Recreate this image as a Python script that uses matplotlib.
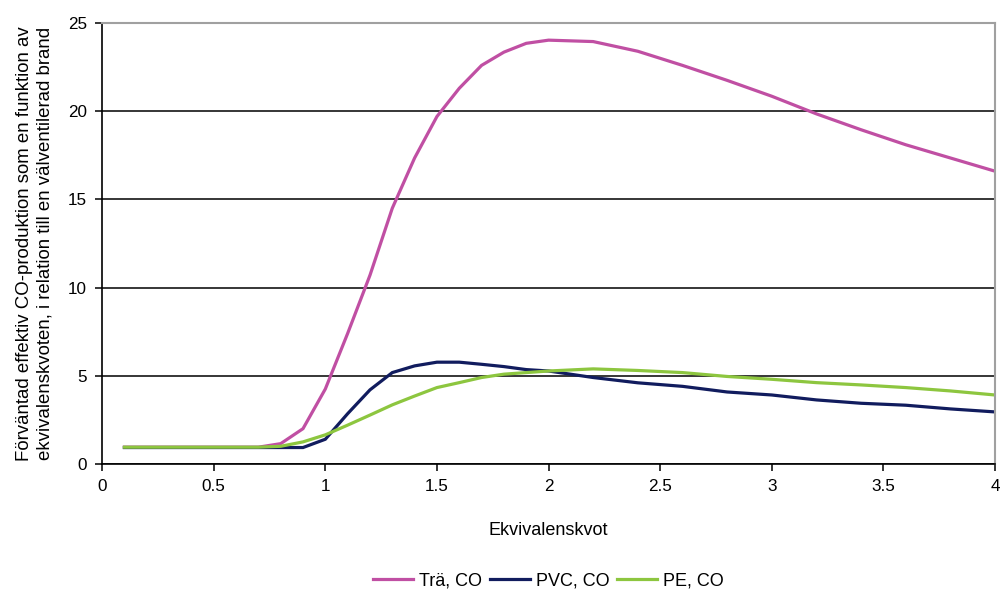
import matplotlib
matplotlib.use("Agg")
import matplotlib.pyplot as plt

plt.rcParams['font.family'] = ['Liberation Sans', 'DejaVu Sans']

x_tra = [0.1, 0.2, 0.3, 0.4, 0.5, 0.6, 0.7, 0.8, 0.9, 1.0, 1.1, 1.2, 1.3, 1.4, 1.5,
         1.6, 1.7, 1.8, 1.9, 2.0, 2.2, 2.4, 2.6, 2.8, 3.0, 3.2, 3.4, 3.6, 3.8, 4.0]
tra_co = [0.95, 0.95, 0.95, 0.95, 0.95, 0.95, 0.95, 1.15, 2.0, 4.25, 7.4, 10.7, 14.5, 17.35, 19.7,
          21.3, 22.6, 23.35, 23.85, 24.03, 23.95, 23.4, 22.6, 21.75, 20.85, 19.85, 18.95, 18.1, 17.35, 16.6]
pvc_co = [0.93, 0.93, 0.93, 0.93, 0.93, 0.93, 0.93, 0.93, 0.93, 1.4, 2.85, 4.2, 5.18, 5.56, 5.77,
          5.77, 5.65, 5.52, 5.35, 5.27, 4.9, 4.6, 4.4, 4.08, 3.91, 3.63, 3.44, 3.33, 3.12, 2.95]
pe_co = [0.95, 0.95, 0.95, 0.95, 0.95, 0.95, 0.95, 1.0, 1.25, 1.65, 2.2, 2.77, 3.35, 3.85, 4.33,
         4.61, 4.9, 5.09, 5.18, 5.27, 5.39, 5.3, 5.18, 4.96, 4.8, 4.61, 4.48, 4.33, 4.14, 3.91]

series_labels = ['Trä, CO', 'PVC, CO', 'PE, CO']
colors = ['#C04FA3', '#111C5E', '#8DC63F']

fig = plt.figure(figsize=(10.01, 5.91), dpi=100)
ax = fig.add_axes([0.102, 0.215, 0.892, 0.746])

for ys, lab, c in zip([tra_co, pvc_co, pe_co], series_labels, colors):
    ax.plot(x_tra, ys, color=c, lw=2.3, label=lab, solid_joinstyle='miter')

ax.set_xlim(0, 4)
ax.set_ylim(0, 25)
ax.set_xticks([0, 0.5, 1, 1.5, 2, 2.5, 3, 3.5, 4])
ax.set_xticklabels(['0', '0.5', '1', '1.5', '2', '2.5', '3', '3.5', '4'])
ax.set_yticks([0, 5, 10, 15, 20, 25])
ax.grid(axis='y', color='black', lw=1.1)
ax.set_axisbelow(True)
ax.tick_params(axis='both', direction='out', length=5, width=1.1, labelsize=12.3,
               colors='black', pad=6)
for s in ['left', 'bottom']:
    ax.spines[s].set_color('black')
    ax.spines[s].set_linewidth(1.2)
for s in ['top', 'right']:
    ax.spines[s].set_color('#A0A0A0')
    ax.spines[s].set_linewidth(1.5)

ax.set_xlabel('Ekvivalenskvot', fontsize=13, labelpad=20)
ax.set_ylabel('Förväntad effektiv CO-produktion som en funktion av\n'
              'ekvivalenskvoten, i relation till en välventilerad brand',
              fontsize=13.4, labelpad=10, linespacing=1.3)

leg = fig.legend(loc='center', bbox_to_anchor=(0.548, 0.017), ncol=3, frameon=False,
                 fontsize=13, handlelength=2.2, columnspacing=0.45, handletextpad=0.33)

fig.savefig('out.png', dpi=100)
